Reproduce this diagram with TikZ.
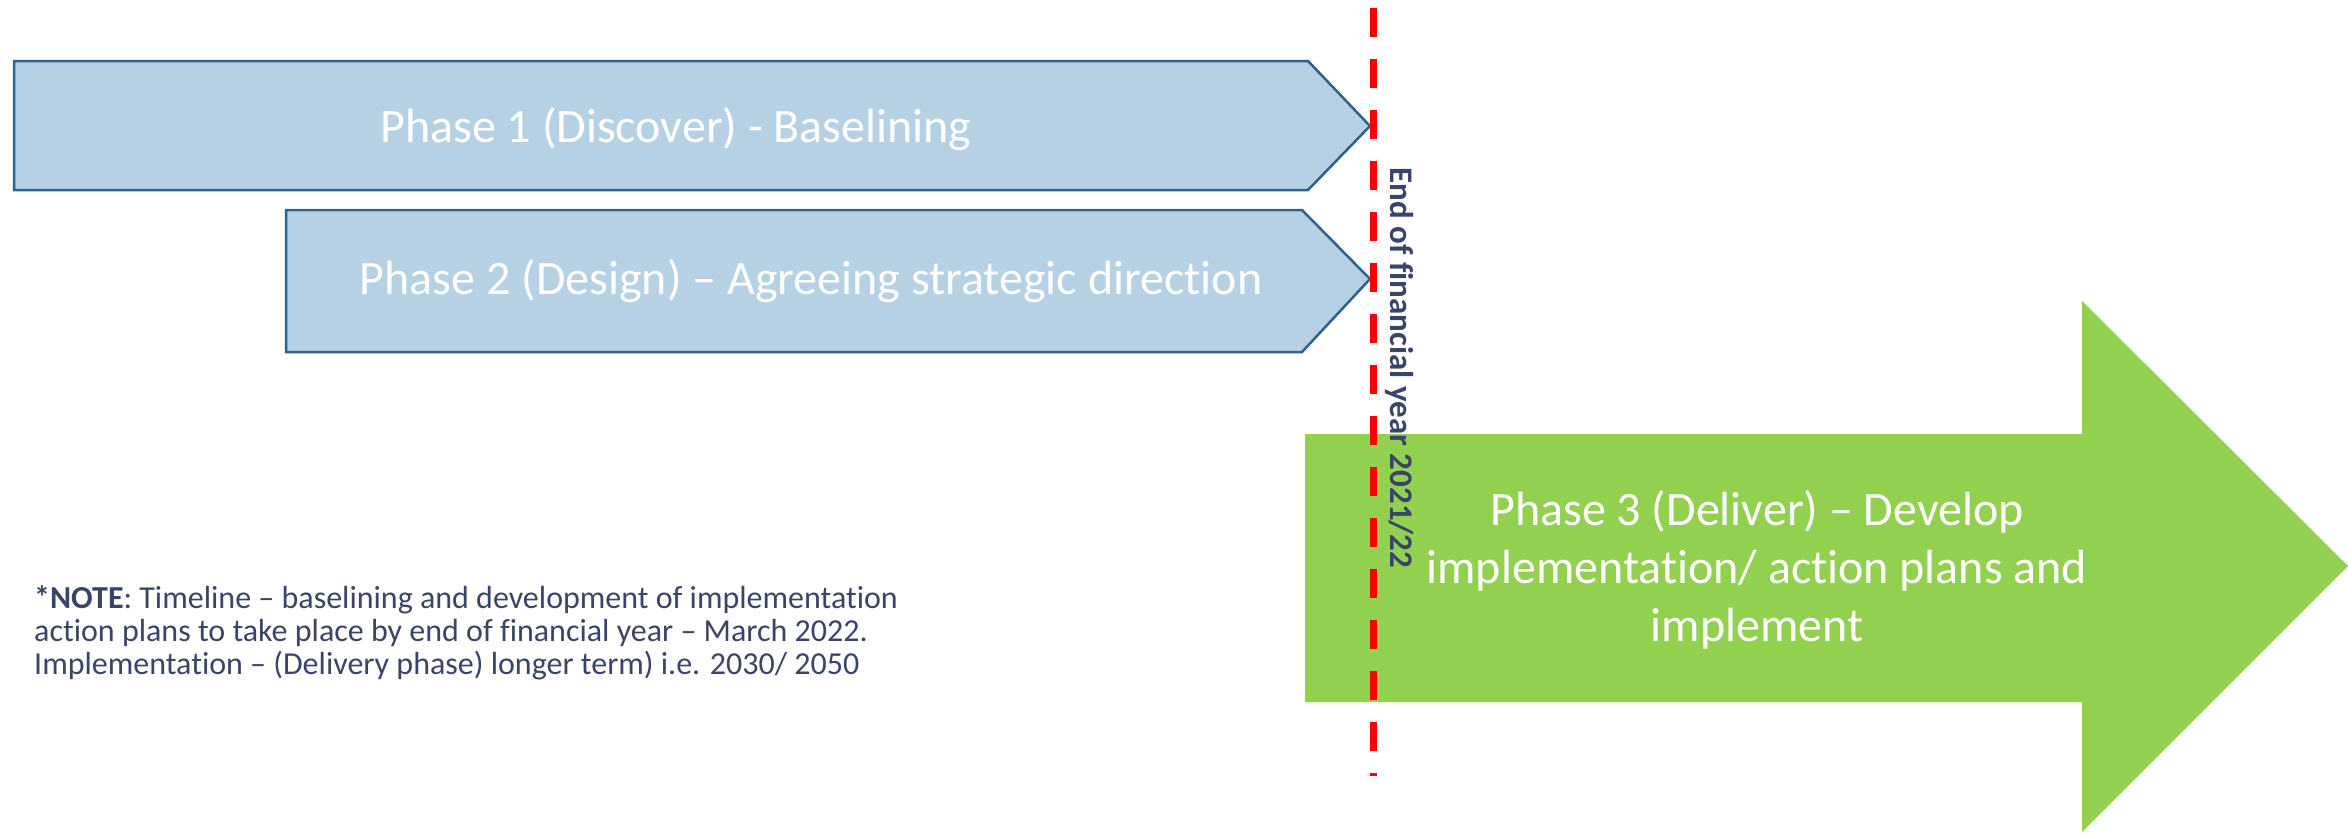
\documentclass[tikz,border=0pt]{standalone}
\usepackage{fontspec}
\setmainfont{Carlito}[Ligatures=NoCommon]
\usetikzlibrary{positioning}
\definecolor{phaseblue}{HTML}{B7D1E4}
\definecolor{phaseedge}{HTML}{30608C}
\definecolor{phasegreen}{HTML}{92D050}
\definecolor{notenavy}{HTML}{3A4468}
\begin{document}
\begin{tikzpicture}[x=1pt,y=-1pt,
        phasebox/.style={fill=phaseblue,draw=phaseedge,line width=2.5pt,line join=miter},
        phasearrow/.style={fill=phasegreen,draw=none},
        phasetext/.style={text=white,font=\fontsize{48}{58}\selectfont,inner sep=0pt},
        yearline/.style={draw=red,line width=7pt,dash pattern=on 29pt off 22pt},
        yeartext/.style={text=notenavy,font=\fontsize{33}{40}\selectfont\bfseries,rotate=-90,inner sep=0pt},
        notetext/.style={text=notenavy,font=\fontsize{32}{33}\selectfont,align=left,inner sep=0pt}
    ]
    \useasboundingbox (0,0) rectangle (2348,836);
    % phase 1 and 2 (chevrons)
    \path[phasebox] (14,61) -- (1308,61) -- (1370,126) -- (1308,190) -- (14,190) -- cycle;
    \path[phasebox] (286,210) -- (1302,210) -- (1370,279) -- (1302,352) -- (286,352) -- cycle;
    % phase 3 (big arrow)
    \path[phasearrow] (1305,434) -- (2082,434) -- (2082,301) -- (2348,566)
        -- (2082,832) -- (2082,702) -- (1305,702) -- cycle;
    % end of year line
    \coordinate (yeartop) at (1373,8);
    \coordinate (yearbot) at (1373,776);
    \draw[yearline] (yeartop) -- (yearbot);

    \node[phasetext] (p1) at (676,129) {Phase 1 (Discover) - Baselining};
    \node[phasetext] (p2) at (811,281) {Phase 2 (Design) – Agreeing strategic direction};
    \node[phasetext,align=center] (p3) at (1757,570) {Phase 3 (Deliver) – Develop\\implementation/ action plans and\\implement};
    \node[yeartext] (year) at (1399,368) {End of financial year 2021/22};
    \node[notetext,anchor=west] (note) at (34,633) {\textbf{*NOTE}: Timeline – baselining and development of implementation\\action plans to take place by end of financial year – March 2022.\\Implementation – (Delivery phase) longer term) i.e. 2030/ 2050};
\end{tikzpicture}
\end{document}
